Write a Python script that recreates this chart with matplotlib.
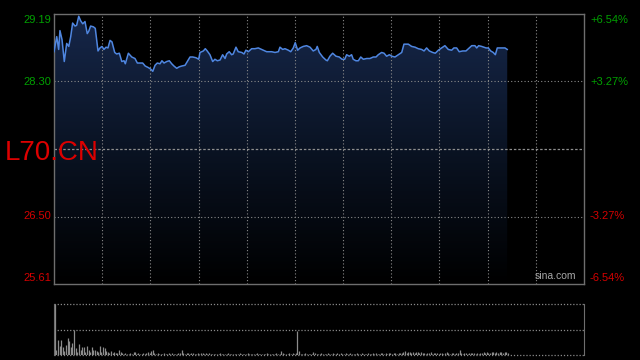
import numpy as np
import matplotlib.pyplot as plt
from matplotlib.colors import LinearSegmentedColormap

plt.rcParams['font.family'] = ['Liberation Sans', 'DejaVu Sans']

# intraday price, minutes from open
minutes = [0, 1.7, 2.9, 3.7, 5.0, 6.4, 7.9, 9.2, 10.4, 11.6, 13.1, 14.1, 15.4, 16.6, 17.9, 19.3,
           20.7, 21.6, 22.8, 24.5, 25.7, 27.4, 28.6, 29.9, 31.1, 32.4, 33.6, 34.9, 36.1, 37.8,
           39.0, 40.7, 42.2, 43.6, 44.4, 46.3, 48.4, 50.4, 51.9, 53.5, 55.2, 56.8, 58.7, 60.2,
           61.5, 62.9, 64.3, 66.0, 67.2, 68.5, 70.2, 71.8, 73.3, 74.7, 76.4, 78.0, 79.5, 81.6,
           83.0, 84.7, 86.4, 88.4, 90.1, 90.9, 93.0, 94.2, 95.4, 97.1, 98.8, 100.2, 101.7, 103.4,
           105.0, 106.5, 107.5, 109.1, 110.6, 111.6, 113.3, 114.7, 116.9, 118.3, 119.5, 121.0,
           123.1, 125.1, 127.2, 129.3, 132.4, 135.5, 137.6, 139.7, 140.7, 142.4, 143.8, 145.9,
           147.4, 149.0, 150.2, 151.7, 153.2, 155.2, 157.3, 159.4, 161.4, 163.1, 163.9, 165.2,
           167.3, 169.3, 170.2, 171.8, 173.5, 175.6, 177.6, 179.3, 181.0, 182.2, 183.9, 185.3,
           186.3, 188.0, 189.5, 191.0, 192.6, 194.7, 196.7, 198.8, 200.5, 201.9, 204.0, 205.5,
           207.1, 208.8, 210.4, 212.3, 214.4, 216.5, 217.9, 220.6, 222.7, 224.8, 226.8, 228.9,
           230.4, 232.0, 233.7, 235.8, 237.4, 239.3, 241.4, 243.4, 245.5, 247.6, 249.0, 250.7,
           252.3, 254.5, 256.5, 258.6, 260.1, 262.1, 263.2, 264.4, 266.3, 269.0, 270.4, 271.9,
           273.5, 274.8, 276.0, 277.7, 279.4, 280.8, 282.2]
prices = [28.69, 28.89, 28.72, 28.97, 28.85, 28.56, 28.80, 28.76, 28.89, 29.07, 29.03, 29.04, 29.16,
          29.10, 29.06, 29.09, 28.93, 28.96, 29.03, 29.02, 29.00, 28.70, 28.74, 28.76, 28.72, 28.75,
          28.74, 28.84, 28.82, 28.68, 28.66, 28.67, 28.56, 28.57, 28.53, 28.67, 28.62, 28.60, 28.54,
          28.54, 28.54, 28.50, 28.48, 28.46, 28.43, 28.51, 28.54, 28.53, 28.57, 28.54, 28.56, 28.57,
          28.53, 28.50, 28.47, 28.49, 28.50, 28.51, 28.56, 28.62, 28.62, 28.61, 28.59, 28.68, 28.70,
          28.73, 28.70, 28.65, 28.56, 28.59, 28.57, 28.58, 28.65, 28.60, 28.66, 28.69, 28.65, 28.66,
          28.75, 28.69, 28.68, 28.66, 28.71, 28.69, 28.73, 28.73, 28.74, 28.72, 28.69, 28.69, 28.68,
          28.69, 28.75, 28.72, 28.73, 28.71, 28.69, 28.74, 28.81, 28.71, 28.74, 28.76, 28.77, 28.75,
          28.70, 28.72, 28.76, 28.68, 28.62, 28.58, 28.57, 28.63, 28.67, 28.63, 28.62, 28.59, 28.59,
          28.65, 28.63, 28.65, 28.59, 28.57, 28.57, 28.62, 28.59, 28.60, 28.60, 28.62, 28.62, 28.65,
          28.68, 28.67, 28.63, 28.65, 28.63, 28.62, 28.65, 28.68, 28.79, 28.79, 28.76, 28.75, 28.73,
          28.72, 28.70, 28.74, 28.70, 28.68, 28.67, 28.71, 28.74, 28.77, 28.72, 28.71, 28.74, 28.74,
          28.69, 28.70, 28.70, 28.74, 28.77, 28.77, 28.74, 28.77, 28.76, 28.74, 28.74, 28.70, 28.68,
          28.65, 28.74, 28.74, 28.74, 28.74, 28.72]

# volume per minute (relative units)
volume = [100, 10, 29, 17, 29, 16, 8, 19, 33, 28, 15, 24, 50, 13, 6, 21, 10, 15, 16, 6,
          17, 9, 6, 16, 9, 9, 8, 5, 17, 6, 15, 13, 8, 6, 4, 8, 3, 6, 3, 4,
          9, 5, 3, 2, 3, 2, 1, 3, 2, 5, 5, 2, 3, 1, 2, 3, 2, 3, 5, 3,
          8, 9, 3, 2, 4, 2, 1, 2, 3, 2, 1, 3, 2, 3, 2, 1, 2, 3, 4, 9,
          3, 2, 3, 4, 2, 3, 4, 2, 1, 3, 2, 3, 4, 2, 3, 2, 4, 2, 1, 2,
          2, 1, 2, 3, 1, 2, 1, 2, 3, 2, 1, 2, 1, 1, 2, 3, 1, 2, 1, 2,
          3, 2, 1, 2, 2, 1, 3, 2, 1, 2, 1, 2, 3, 1, 2, 2, 1, 2, 3, 2,
          2, 8, 3, 2, 1, 2, 3, 2, 4, 2, 3, 48, 8, 2, 1, 2, 3, 2, 1, 2,
          2, 5, 3, 2, 1, 2, 3, 2, 1, 2, 3, 2, 2, 3, 1, 2, 3, 2, 4, 2,
          2, 3, 1, 2, 3, 2, 2, 1, 3, 2, 2, 3, 2, 1, 2, 3, 2, 2, 3, 2,
          3, 2, 2, 3, 4, 2, 3, 2, 3, 4, 2, 3, 4, 2, 3, 4, 3, 5, 8, 4,
          6, 5, 3, 6, 4, 5, 6, 3, 5, 4, 3, 2, 4, 3, 5, 2, 3, 4, 3, 2,
          3, 4, 2, 3, 5, 3, 2, 4, 3, 2, 3, 4, 9, 3, 2, 3, 4, 2, 3, 3,
          4, 3, 2, 3, 2, 4, 3, 5, 3, 6, 4, 3, 6, 5, 4, 6, 3, 5, 6, 4,
          5, 6, 4]

prev_close = 27.40
y_top = 29.19
y_bot = 25.61
session_len = 330

left_labels = ['29.19', '28.30', '26.50', '25.61']
right_labels = ['+6.54%', '+3.27%', '-3.27%', '-6.54%']
label_rows = [20, 82, 216, 278]  # pixel rows
label_colors = ['#00a000', '#00a000', '#d40000', '#d40000']

fig = plt.figure(figsize=(6.4, 3.6), dpi=100, facecolor='black')

# main price panel
ax = fig.add_axes([54/640, 76/360, 530/640, 270/360], facecolor='black')
ax.set_xlim(0, session_len)
ax.set_ylim(y_bot, y_top)

cmap = LinearSegmentedColormap.from_list('fade', ['#000000', '#0a1323', '#16274a'])
grad = np.linspace(0, 1, 256).reshape(-1, 1)
img = ax.imshow(grad, cmap=cmap, origin='lower', aspect='auto',
                extent=[0, session_len, y_bot, y_top], zorder=1)
poly = ax.fill_between(minutes, prices, y_bot, color='none', lw=0)
img.set_clip_path(poly.get_paths()[0], transform=ax.transData)
ax.plot(minutes, prices, color='#4f86e0', lw=1.1, zorder=3)

for v in [28.30, 26.50]:
    ax.axhline(v, color='#8a8a8a', lw=0.8, ls=(0, (1, 2)), zorder=2)
ax.axhline(prev_close, color='#8f8f8f', lw=0.9, ls=(0, (2, 1.5)), zorder=2)
for i in range(1, 11):
    ax.axvline(i * 30, color='#8a8a8a', lw=0.8, ls=(0, (1, 2)), zorder=2)

ax.set_xticks([])
ax.set_yticks([])
for s in ax.spines.values():
    s.set_color('#6e6e6e')
    s.set_linewidth(1)

ax.text(0.985, 0.012, 'sina.com', transform=ax.transAxes, ha='right', va='bottom',
        fontsize=7.5, color='#a8a8a8', zorder=4)

for lab, rl, row, c in zip(left_labels, right_labels, label_rows, label_colors):
    fy = (360 - row) / 360
    fig.text(51/640, fy, lab, ha='right', va='center', fontsize=8, color=c)
    fig.text(590/640, fy, rl, ha='left', va='center', fontsize=8, color=c)

fig.text(5/640, (360 - 160)/360, 'L70.CN', ha='left', va='baseline',
         fontsize=20, color='#dd0000')

# volume panel
axv = fig.add_axes([54/640, 5.3/360, 530/640, 50.4/360], facecolor='black')
axv.set_xlim(0, session_len)
axv.set_ylim(0, 100)
axv.vlines(np.arange(len(volume)) + 0.5, 0, volume, color='#8c8c8c', lw=0.9)
for v in [0, 50, 100]:
    axv.axhline(v, color='#8a8a8a', lw=0.9, ls=(0, (1, 1.5)), clip_on=False)
axv.set_xticks([])
axv.set_yticks([])
axv.spines['top'].set_visible(False)
axv.spines['bottom'].set_visible(False)
axv.spines['left'].set_color('#6e6e6e')
axv.spines['right'].set_color('#6e6e6e')

fig.savefig('out.png', dpi=100, facecolor='black')
